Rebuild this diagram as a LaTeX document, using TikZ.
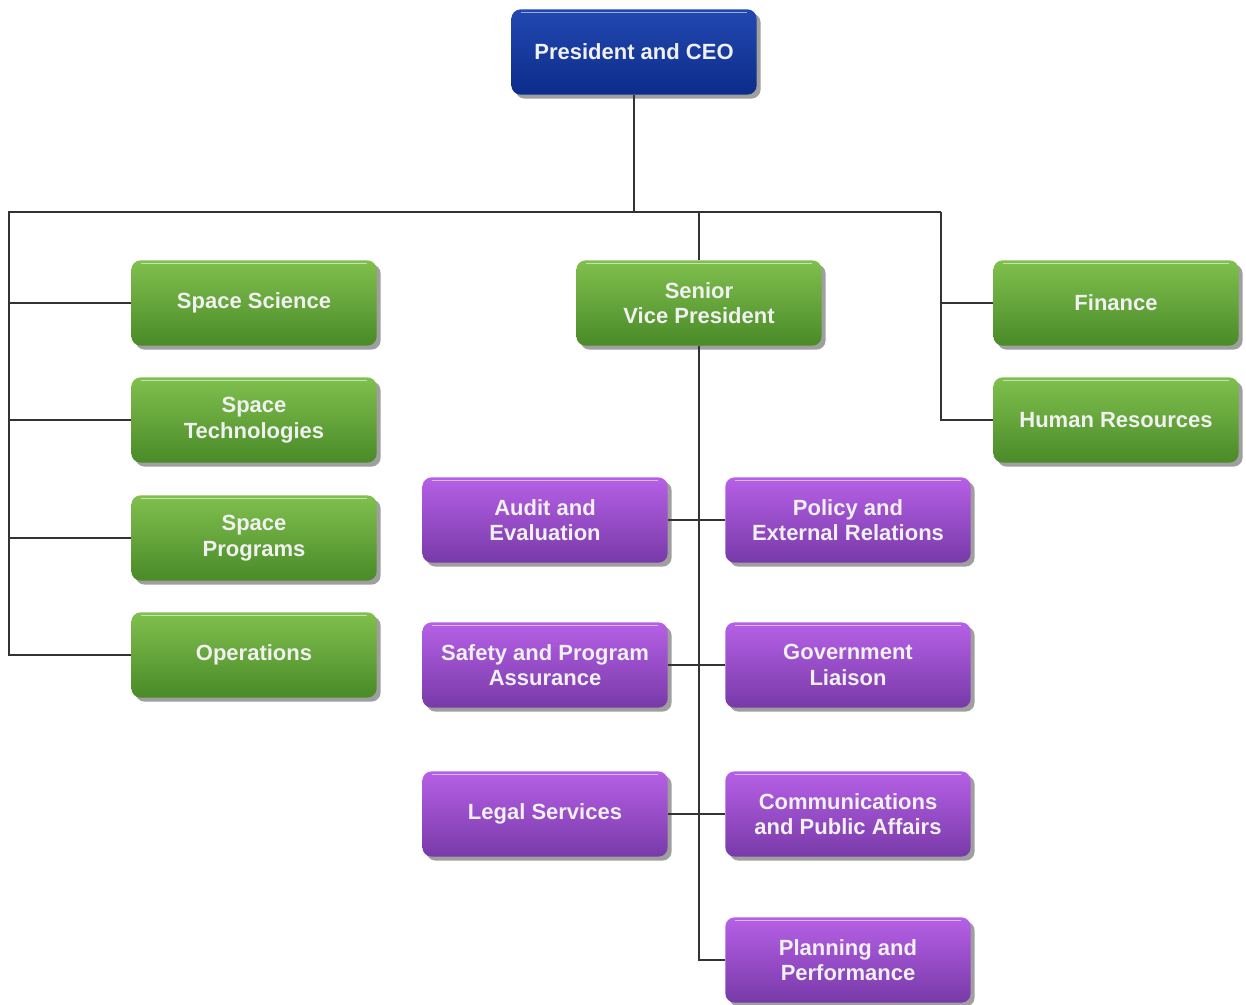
\documentclass[tikz,border=0pt]{standalone}
\usepackage{fontspec}
\setmainfont{Liberation Sans}
\usetikzlibrary{shadows}

\definecolor{ceoTop}{RGB}{34,72,176}
\definecolor{ceoBot}{RGB}{12,44,138}
\definecolor{deptTop}{RGB}{128,192,78}
\definecolor{deptBot}{RGB}{74,138,40}
\definecolor{officeTop}{RGB}{182,96,230}
\definecolor{officeBot}{RGB}{120,58,168}
\definecolor{linkGrey}{RGB}{51,51,51}

\tikzset{
  unit/.style={rounded corners=7pt, minimum width=184pt, minimum height=64pt,
    inner sep=2pt, align=center, text=white!94!black,
    font=\fontsize{16.5}{19}\selectfont\bfseries,
    drop shadow={shadow xshift=3pt, shadow yshift=-3pt, opacity=0.5, fill=black!75},
    path picture={\draw[white, opacity=0.55, line width=1.2pt]
      ([xshift=7pt,yshift=-2.5pt]path picture bounding box.north west) --
      ([xshift=-7pt,yshift=-2.5pt]path picture bounding box.north east);}},
  ceobox/.style={unit, top color=ceoTop, bottom color=ceoBot},
  deptbox/.style={unit, top color=deptTop, bottom color=deptBot},
  officebox/.style={unit, top color=officeTop, bottom color=officeBot},
  link/.style={draw=linkGrey, line width=1pt}
}

\begin{document}
\begin{tikzpicture}[x=0.75pt,y=0.75pt,yscale=-1,xscale=1]
\useasboundingbox (0,0) rectangle (1246,1004);

% top
\node[ceobox] (ceo) at (634,52) {President and CEO};

% left column
\node[deptbox] (sci) at (254,303) {Space Science};
\node[deptbox] (tech) at (254,420) {Space\\Technologies};
\node[deptbox] (prog) at (254,538) {Space\\Programs};
\node[deptbox] (ops) at (254,655) {Operations};

% middle and right
\node[deptbox] (svp) at (699,303) {Senior\\Vice President};
\node[deptbox] (fin) at (1116,303) {Finance};
\node[deptbox] (hr) at (1116,420) {Human Resources};

% offices under the senior vice president
\node[officebox] (audit) at (545,520) {Audit and\\Evaluation};
\node[officebox] (policy) at (848,520) {Policy and\\External Relations};
\node[officebox] (safety) at (545,665) {Safety and Program\\Assurance};
\node[officebox] (gov) at (848,665) {Government\\Liaison};
\node[officebox] (legal) at (545,814) {Legal Services};
\node[officebox] (comm) at (848,814) {Communications\\and Public Affairs};
\node[officebox] (plan) at (848,960) {Planning and\\Performance};

% bus
\coordinate (bus) at (634,212);
\coordinate (busL) at (9,212);
\coordinate (busR) at (941,212);

\draw[link] (ceo.south) -- (bus);
\draw[link] (busR) -- (busL) |- (ops.west);
\draw[link] (busL |- sci.west) -- (sci.west);
\draw[link] (busL |- tech.west) -- (tech.west);
\draw[link] (busL |- prog.west) -- (prog.west);
\draw[link] (svp.north |- bus) -- (svp.north);
\draw[link] (busR) |- (hr.west);
\draw[link] (busR |- fin.west) -- (fin.west);

\draw[link] (svp.south) |- (plan.west);
\draw[link] (audit.east) -- (policy.west);
\draw[link] (safety.east) -- (gov.west);
\draw[link] (legal.east) -- (comm.west);

\end{tikzpicture}
\end{document}
